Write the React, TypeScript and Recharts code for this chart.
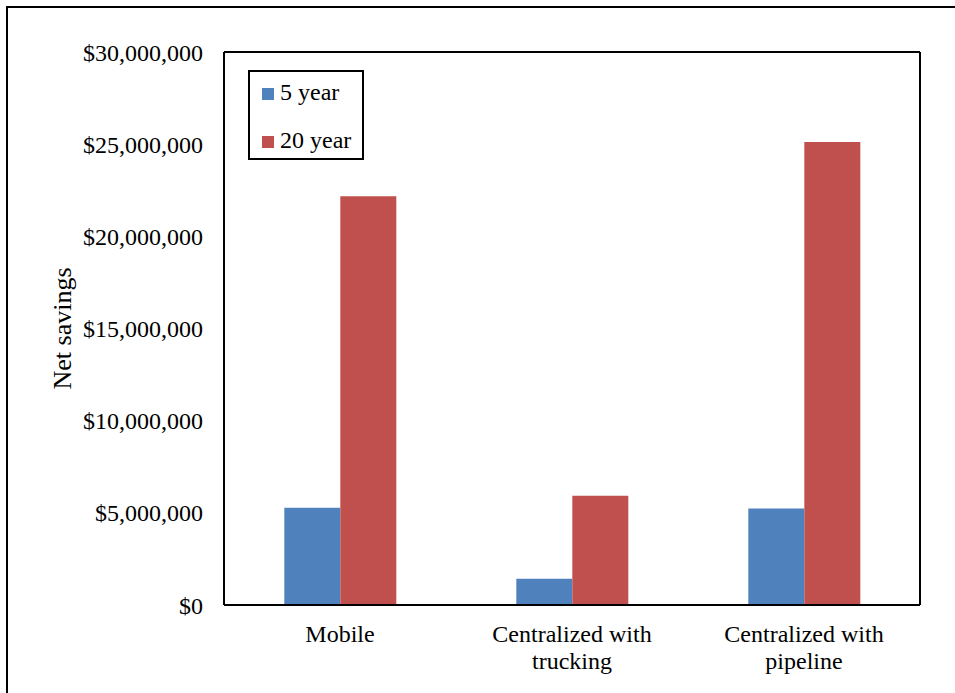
import { BarChart, Bar, XAxis, YAxis, Legend } from 'recharts';

const categories = ['Mobile', 'Centralized with\ntrucking', 'Centralized with\npipeline'];
const fiveYear = [5270000, 1420000, 5230000];
const twentyYear = [22170000, 5920000, 25120000];
const yTicks = [0, 5000000, 10000000, 15000000, 20000000, 25000000, 30000000];

const FONT = '"Liberation Serif", "Times New Roman", serif';
const BLUE = '#4F81BD';
const RED = '#C0504D';

const data = categories.map((name, i) => ({
  name,
  five: fiveYear[i],
  twenty: twentyYear[i],
}));

const formatMoney = (v: number) => `$${Number(v).toLocaleString('en-US')}`;

function CategoryTick(props: any) {
  const { x, y, payload } = props;
  const lines = String(payload.value).split('\n');
  return (
    <text x={x} y={y} textAnchor="middle" fontFamily={FONT} fontSize={24} fill="#000">
      {lines.map((line, i) => (
        <tspan key={i} x={x} dy={i === 0 ? 37 : 27}>
          {line}
        </tspan>
      ))}
    </text>
  );
}

function YLabel(props: any) {
  const vb = props.viewBox || {};
  const cx = (vb.x || 0) + 62;
  const cy = (vb.y || 0) + (vb.height || 0) / 2;
  return (
    <text
      x={cx}
      y={cy}
      transform={`rotate(-90 ${cx} ${cy})`}
      textAnchor="middle"
      dominantBaseline="central"
      fontFamily={FONT}
      fontSize={26}
      fill="#000"
    >
      Net savings
    </text>
  );
}

function LegendBox(props: any) {
  const items = props.payload || [];
  return (
    <svg width={116} height={90} style={{ display: 'block' }}>
      <rect x={1} y={1} width={114} height={88} fill="#fff" stroke="#000" strokeWidth={2} />
      {items.map((item: any, i: number) => (
        <g key={item.value}>
          <rect x={14} y={18 + i * 48} width={12} height={12} fill={item.color} />
          <text x={32} y={30 + i * 48} fontFamily={FONT} fontSize={24} fill="#000">
            {item.value}
          </text>
        </g>
      ))}
    </svg>
  );
}

export default function App() {
  const axisLine = { stroke: '#000', strokeWidth: 2 };
  return (
    <div>
      <div
        style={{
          position: 'absolute',
          left: 6,
          top: 6,
          width: 949,
          height: 687,
          borderLeft: '2px solid #000',
          borderTop: '2px solid #000',
          boxSizing: 'border-box',
        }}
      />
      <div style={{ position: 'absolute', left: 0, top: 0 }}>
        <BarChart
          width={955}
          height={693}
          data={data}
          margin={{ top: 51, right: 34, bottom: 8, left: 0 }}
          barCategoryGap="26%"
          barGap={0}
        >
          <XAxis
            dataKey="name"
            height={80}
            interval={0}
            tick={<CategoryTick />}
            tickLine={false}
            tickSize={0}
            tickMargin={0}
            axisLine={axisLine}
          />
          <XAxis
            xAxisId="top"
            dataKey="name"
            orientation="top"
            height={1}
            tick={false}
            tickLine={false}
            axisLine={axisLine}
          />
          <YAxis
            width={224}
            domain={[0, 30000000]}
            ticks={yTicks}
            interval={0}
            tickFormatter={formatMoney}
            tickLine={false}
            tickSize={0}
            tickMargin={21}
            axisLine={axisLine}
            tick={{ fontFamily: FONT, fontSize: 24, fill: '#000' }}
            label={{ content: <YLabel /> }}
          />
          <YAxis
            yAxisId="right"
            orientation="right"
            width={1}
            tick={false}
            tickLine={false}
            axisLine={axisLine}
          />
          <Legend
            layout="horizontal"
            verticalAlign="middle"
            align="center"
            itemSorter="dataKey"
            content={<LegendBox />}
            wrapperStyle={{ position: 'absolute', left: 248, top: 70, width: 116, height: 90 }}
          />
          <Bar dataKey="five" name="5 year" fill={BLUE} isAnimationActive={false} />
          <Bar dataKey="twenty" name="20 year" fill={RED} isAnimationActive={false} />
        </BarChart>
      </div>
    </div>
  );
}
